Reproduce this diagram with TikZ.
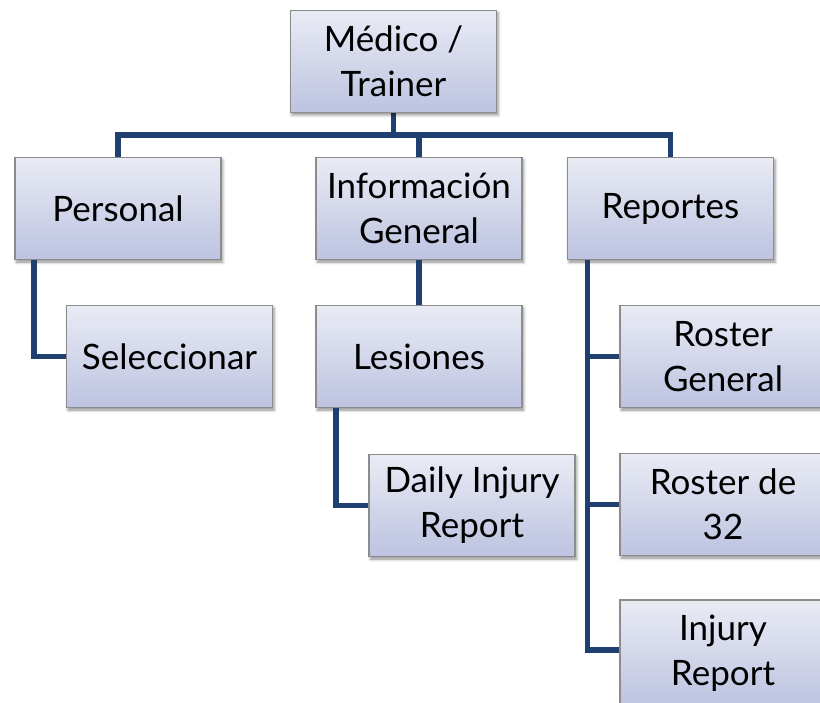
\documentclass[tikz,border=0pt]{standalone}
\usepackage{fontspec}
\setmainfont{Lato}
\usetikzlibrary{shadows.blur}

\definecolor{linkblue}{HTML}{1F3F6F}
\definecolor{boxtop}{HTML}{E9EBF4}
\definecolor{boxbottom}{HTML}{BDC3E1}
\definecolor{boxedge}{HTML}{8C8C8C}

\tikzset{
  orgbox/.style={
    rectangle, draw=boxedge, line width=1.6pt,
    top color=boxtop, bottom color=boxbottom,
    minimum width=206pt, minimum height=102pt, inner sep=0pt,
    align=center, text=black,
    font=\fontsize{35}{45}\selectfont,
    blur shadow={shadow xshift=1.5pt, shadow yshift=-2.5pt,
                 shadow blur radius=3pt, shadow opacity=45}
  },
  link/.style={draw=linkblue, line width=5.5pt, line join=miter}
}

\begin{document}
\begin{tikzpicture}[x=1pt, y=-1pt]
  \useasboundingbox (0,0) rectangle (820,703);

  % connectors of the first level
  \draw[link] (393.5,113) -- (393.5,135);
  \draw[link] (118,157) |- (670.5,135) -- (670.5,157);
  \draw[link] (419,135) -- (419,157);

  % boxes
  \node[orgbox] (top)  at (393.5,61.5) {Médico /\\Trainer};
  \node[orgbox] (pers) at (118,208.5)  {Personal};
  \node[orgbox] (info) at (419,208.5)  {Información\\General};
  \node[orgbox] (rep)  at (670.5,208.5) {Reportes};
  \node[orgbox] (sel)  at (169.5,356.5) {Seleccionar};
  \node[orgbox] (les)  at (419,356.5)  {Lesiones};
  \node[orgbox] (dir)  at (472,505.5)  {Daily Injury\\Report};
  % the right column runs past the page edge
  \node[orgbox, minimum width=212pt] (rg)  at (726,356.5) {\hspace*{-6pt}Roster\\\hspace*{-6pt}General};
  \node[orgbox, minimum width=212pt] (r32) at (726,504.5) {\hspace*{-6pt}Roster de\\\hspace*{-6pt}32};
  \node[orgbox, minimum width=212pt, minimum height=107pt] (ir) at (726,653.5) {\hspace*{-6pt}Injury\\\hspace*{-6pt}Report};

  % tree links below the first row
  \draw[link] ([xshift=20pt]pers.south west) |- (sel.west);
  \draw[link] (info.south) -- (les.north);
  \draw[link] ([xshift=21pt]les.south west) |- (dir.west);
  \draw[link] ([xshift=21pt]rep.south west) coordinate (trunk) |- ([yshift=3.5pt]ir.west);
  \draw[link] (trunk |- rg.west) -- (rg.west);
  \draw[link] (trunk |- r32.west) -- (r32.west);
\end{tikzpicture}
\end{document}
